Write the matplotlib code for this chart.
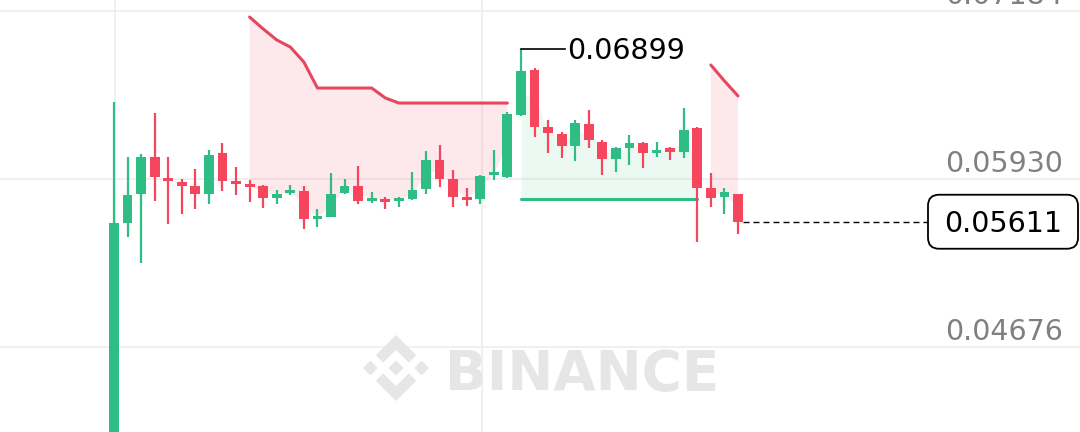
import numpy as np
import matplotlib.pyplot as plt
from matplotlib.patches import FancyBboxPatch, Polygon

# candles (price, one per bar)
opens = [0.03950, 0.05602, 0.05818, 0.06094, 0.05937, 0.05908, 0.05878, 0.05818, 0.06124, 0.05910,
         0.05889, 0.05878, 0.05790, 0.05826, 0.05843, 0.05631, 0.05649, 0.05826, 0.05878, 0.05768,
         0.05781, 0.05764, 0.05781, 0.05855, 0.06072, 0.05930, 0.05796, 0.05779, 0.05960, 0.05947,
         0.06408, 0.06744, 0.06318, 0.06266, 0.06176, 0.06341, 0.06208, 0.06079, 0.06161, 0.06201,
         0.06126, 0.06158, 0.06131, 0.06311, 0.05863, 0.05798, 0.05818]
highs = [0.06505, 0.06094, 0.06117, 0.06423, 0.06094, 0.05930, 0.06005, 0.06146, 0.06199, 0.06020,
         0.05923, 0.05885, 0.05848, 0.05885, 0.05878, 0.05706, 0.05975, 0.05930, 0.06027, 0.05835,
         0.05796, 0.05798, 0.05984, 0.06141, 0.06184, 0.05997, 0.05863, 0.05960, 0.06150, 0.06432,
         0.06899, 0.06759, 0.06370, 0.06283, 0.06370, 0.06445, 0.06221, 0.06169, 0.06259, 0.06206,
         0.06208, 0.06169, 0.06462, 0.06320, 0.05975, 0.05863, 0.05818]
lows = [0.03900, 0.05497, 0.05303, 0.05766, 0.05594, 0.05669, 0.05706, 0.05743, 0.05840, 0.05811,
        0.05758, 0.05716, 0.05743, 0.05811, 0.05557, 0.05572, 0.05646, 0.05818, 0.05743, 0.05751,
        0.05706, 0.05723, 0.05775, 0.05818, 0.05870, 0.05723, 0.05728, 0.05743, 0.05923, 0.05937,
        0.06400, 0.06244, 0.06124, 0.06087, 0.06067, 0.06161, 0.05960, 0.05984, 0.06035, 0.06012,
        0.06094, 0.06072, 0.06087, 0.05460, 0.05723, 0.05669, 0.05519]
closes = [0.05602, 0.05811, 0.06094, 0.05945, 0.05915, 0.05878, 0.05818, 0.06109, 0.05915, 0.05893,
          0.05870, 0.05790, 0.05818, 0.05848, 0.05631, 0.05654, 0.05818, 0.05878, 0.05766, 0.05788,
          0.05761, 0.05783, 0.05848, 0.06072, 0.05930, 0.05798, 0.05773, 0.05952, 0.05977, 0.06415,
          0.06738, 0.06318, 0.06273, 0.06176, 0.06348, 0.06221, 0.06077, 0.06161, 0.06199, 0.06126,
          0.06146, 0.06134, 0.06296, 0.05865, 0.05788, 0.05835, 0.05611]

# supertrend: red line above price, green line below
N = None
st_red = [N] * 10 + [0.07139, 0.07050, 0.06968, 0.06915, 0.06803,
                     0.06609, 0.06609, 0.06609, 0.06609, 0.06609, 0.06535] + [0.06497] * 9 \
         + [N] * 14 + [0.06781, 0.06662, 0.06550]
st_green = [N] * 30 + [0.05784] * 14 + [N] * 3

price_ticks = [0.04676, 0.05930, 0.07184]
time_ticks = [0.07, 27.13]

W, H = 1080, 432
GREEN = '#2ebd85'
RED = '#f6465d'

o = np.array(opens); h = np.array(highs); l = np.array(lows); c = np.array(closes)
red_line = np.array(st_red, dtype=float)
green_line = np.array(st_green, dtype=float)
n = len(o)
x = np.arange(n)

fig = plt.figure(figsize=(W / 100, H / 100), dpi=100)
ax = fig.add_axes([0, 0, 1, 1])
xmin, xmax = -8.40, 71.21
ymin, ymax = 0.040415, 0.072661
ax.set_xlim(xmin, xmax)
ax.set_ylim(ymin, ymax)
ax.axis('off')

# grid
for t in price_ticks:
    ax.axhline(t, color='#eeeeee', lw=1.2, zorder=0)
for t in time_ticks:
    ax.axvline(t, color='#eeeeee', lw=1.2, zorder=0)

# watermark, logo drawn from the svg path coords (126.61 box, y down)
logo_parts = [
    [(38.73, 53.2), (63.32, 28.62), (87.92, 53.22), (102.22, 38.91), (63.32, 0), (24.43, 38.9)],
    [(38.73, 73.42), (63.32, 98.0), (87.92, 73.4), (102.22, 87.71), (63.32, 126.61), (24.43, 87.72)],
    [(0, 63.31), (14.3, 49.0), (28.61, 63.31), (14.3, 77.61)],
    [(98.0, 63.31), (112.3, 49.0), (126.61, 63.31), (112.3, 77.61)],
    [(48.8, 63.31), (63.32, 48.78), (77.83, 63.3), (63.32, 77.83)],
]
lcx, lcy, lsize = 396, 368, 66
for part in logo_parts:
    pts = [((lcx + (sx - 63.3) * lsize / 126.61) / W,
            1 - (lcy + (sy - 63.3) * lsize / 126.61) / H) for sx, sy in part]
    ax.add_patch(Polygon(pts, closed=True, fc='#e6e6e6', ec='none',
                         transform=ax.transAxes, zorder=0.5))
ax.text(445 / W, 1 - 390 / H, 'BINANCE', transform=ax.transAxes, fontsize=39.5,
        fontweight='bold', color='#e6e6e6', ha='left', va='baseline', zorder=0.5)

# supertrend fills to the body middle
mid = (o + c) / 2
ax.fill_between(x, red_line, mid, where=~np.isnan(red_line), color=RED, alpha=0.12,
                lw=0, zorder=1)
ax.fill_between(x, green_line, mid, where=~np.isnan(green_line), color=GREEN, alpha=0.09,
                lw=0, zorder=1)
ax.plot(x, red_line, color='#e5485e', lw=2.2, zorder=2, solid_capstyle='round')
ax.plot(x, green_line, color=GREEN, lw=2.2, zorder=2, solid_capstyle='round')

# candles
up = c >= o
cols = np.where(up, GREEN, RED)
ax.vlines(x, l, h, colors=cols, lw=1.6, zorder=3)
min_body = 3 * (ymax - ymin) / H
body_lo = np.minimum(o, c)
body_h = np.maximum(np.abs(c - o), min_body)
ax.bar(x, body_h, bottom=body_lo, width=0.72, color=cols, lw=0, zorder=4)

# price labels on the right
for t in price_ticks:
    ax.annotate(f'{t:.5f}', xy=(1063 / W, t), xycoords=ax.get_yaxis_transform(),
                xytext=(0, 5), textcoords='offset points', ha='right', va='baseline',
                fontsize=20.5, color='#808080', zorder=6)

# highest price marker
hi_i = int(np.argmax(h))
ax.plot([hi_i, hi_i + 3.25], [h[hi_i], h[hi_i]], color='black', lw=1.2, zorder=5)
ax.annotate(f'{h[hi_i]:.5f}', xy=(hi_i + 3.4, h[hi_i]), xytext=(0, -7.2),
            textcoords='offset points', ha='left', va='baseline', fontsize=20.5,
            color='black', zorder=6)

# last price
last = c[-1]
fy = (last - ymin) / (ymax - ymin)
x0 = (n - 1 + 0.37 - xmin) / (xmax - xmin)
ax.plot([x0, 928 / W], [last, last], transform=ax.get_yaxis_transform(), color='black',
        lw=1.0, ls=(0, (4.3, 2.9)), zorder=5)
bw, bh = 150, 54
box = FancyBboxPatch((928 / W, fy - bh / 2 / H), bw / W, bh / H,
                     boxstyle=f'round,pad=0,rounding_size={11 / W}',
                     mutation_aspect=W / H, fc='white', ec='black', lw=1.3,
                     transform=ax.transAxes, zorder=6)
ax.add_patch(box)
ax.annotate(f'{last:.5f}', xy=((928 + bw / 2) / W, last), xycoords=ax.get_yaxis_transform(),
            xytext=(0, -7.2), textcoords='offset points', ha='center', va='baseline',
            fontsize=20.5, color='black', zorder=7)

fig.savefig('out.png', dpi=100, facecolor='white')
